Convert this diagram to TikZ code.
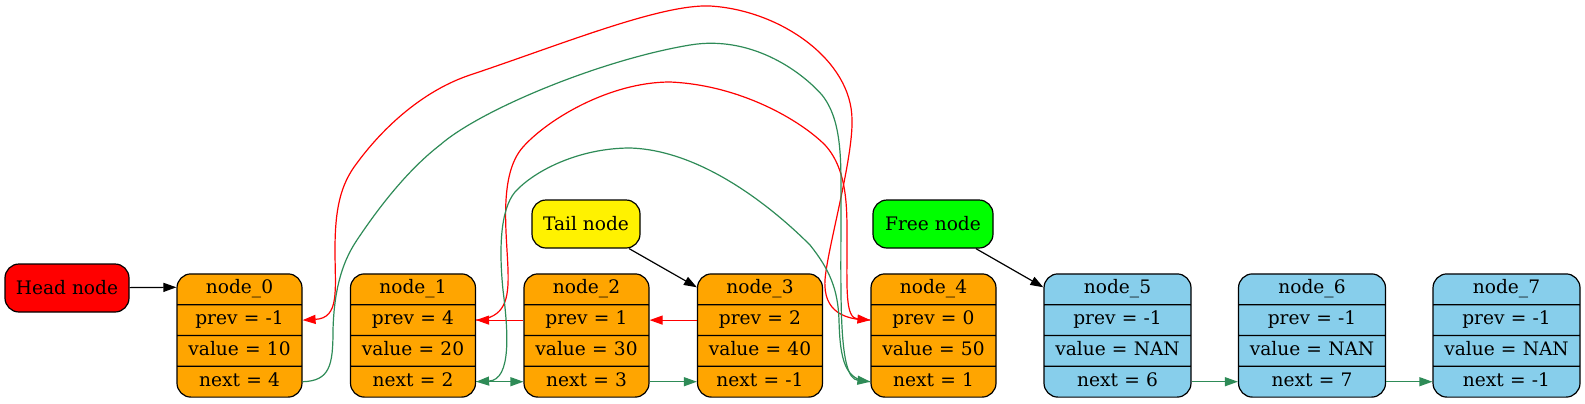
\documentclass[tikz,border=0pt]{standalone}
\usepackage{fontspec}
\setmainfont{DejaVu Serif}
\usepackage{tikz}
\usetikzlibrary{arrows.meta}
\usetikzlibrary{shapes.multipart}

\definecolor{gvorange}{RGB}{255,165,0}
\definecolor{gvblue}{RGB}{135,206,235}
\definecolor{gvgreen}{RGB}{0,255,0}
\definecolor{seagreen}{RGB}{46,139,87}

\newcommand{\cells}[4]{\strut #1\nodepart{two}\strut prev = #2\nodepart{three}\strut value = #3\nodepart{four}\strut next = #4}

\begin{document}
\begin{tikzpicture}[x=0.5pt, y=-0.5pt,
  font=\fontsize{9.3pt}{11pt}\selectfont,
  record/.style={rectangle split, rectangle split parts=4, draw, rounded corners=7pt,
    align=center, inner xsep=3pt, inner ysep=1.9pt, line width=0.6pt},
  label box/.style={draw, rounded corners=7pt, minimum height=24pt, inner xsep=0pt, line width=0.6pt},
  arr/.style={-{Triangle[length=6.5pt,width=4.5pt]}, line width=0.6pt},
  prevlink/.style={arr, red},
  nextlink/.style={arr, seagreen}]

  \useasboundingbox (0,0) rectangle (1585,403);

  \node[label box, fill=red, minimum width=62pt] (head) at (67,288) {Head node};
  \node[label box, fill=yellow, minimum width=54pt] (tail) at (586,224) {Tail node};
  \node[label box, fill=gvgreen, minimum width=60pt] (free) at (933,224) {Free node};

  \foreach \i/\p/\v/\n in {0/-1/10/4, 1/4/20/2, 2/1/30/3, 3/2/40/-1, 4/0/50/1}
    \node[record, fill=gvorange, text width=56.5pt] (n\i) at (239.5+173.5*\i,335.5)
      {\cells{node\_\i}{\p}{\v}{\n}};

  \foreach \i/\n in {5/6, 6/7, 7/-1}
    \node[record, fill=gvblue, text width=67.5pt] (n\i) at (1117.5+194.5*\i-972.5,335.5)
      {\cells{node\_\i}{-1}{NAN}{\n}};

  \draw[arr] (head) -- ([yshift=-7pt]n0.north west);
  \draw[arr] (tail) -- ([yshift=-7pt]n3.north west);
  \draw[arr] (free) -- ([yshift=-7pt]n5.north west);

  \draw[prevlink] (n2.two west) -- (n1.two east);
  \draw[prevlink] (n3.two west) -- (n2.two east);
  \draw[prevlink] (n4.two west) .. controls (845,320) and (823,312) .. (825,280)
    .. controls (827,250) and (853,160) .. (852,120)
    .. controls (852,60) and (780,10) .. (710,6)
    .. controls (660,4) and (560,45) .. (470,75)
    .. controls (425,90) and (385,125) .. (357,163)
    .. controls (340,185) and (335,210) .. (335,250)
    .. controls (335,290) and (340,318) .. (n0.two east);
  \draw[prevlink] (n1.two east) .. controls (505,318) and (509,300) .. (508,270)
    .. controls (507,235) and (498,175) .. (523,147)
    .. controls (548,119) and (610,82) .. (670,82)
    .. controls (740,85) and (800,120) .. (825,145)
    .. controls (848,170) and (847,210) .. (847,240)
    .. controls (847,290) and (845,318) .. (n4.two west);

  \draw[nextlink] (n1.four east) -- (n2.four west);
  \draw[nextlink] (n2.four east) -- (n3.four west);
  \draw[nextlink] (n5.four east) -- (n6.four west);
  \draw[nextlink] (n6.four east) -- (n7.four west);
  \draw[nextlink] (n0.four east) .. controls (330,381) and (333,365) .. (333,330)
    .. controls (334,295) and (340,265) .. (357,240)
    .. controls (375,213) and (405,172) .. (440,145)
    .. controls (480,110) and (600,60) .. (690,45)
    .. controls (750,35) and (800,70) .. (822,95)
    .. controls (842,120) and (841,160) .. (841,200)
    .. controls (841,300) and (838,378) .. (n4.four west);
  \draw[nextlink] (n4.four west) .. controls (845,381) and (840,360) .. (839,320)
    .. controls (838,290) and (830,270) .. (810,245)
    .. controls (770,205) and (700,150) .. (630,148)
    .. controls (580,148) and (535,170) .. (515,192)
    .. controls (500,210) and (499,250) .. (503,290)
    .. controls (508,330) and (512,380) .. (n1.four east);
\end{tikzpicture}
\end{document}
